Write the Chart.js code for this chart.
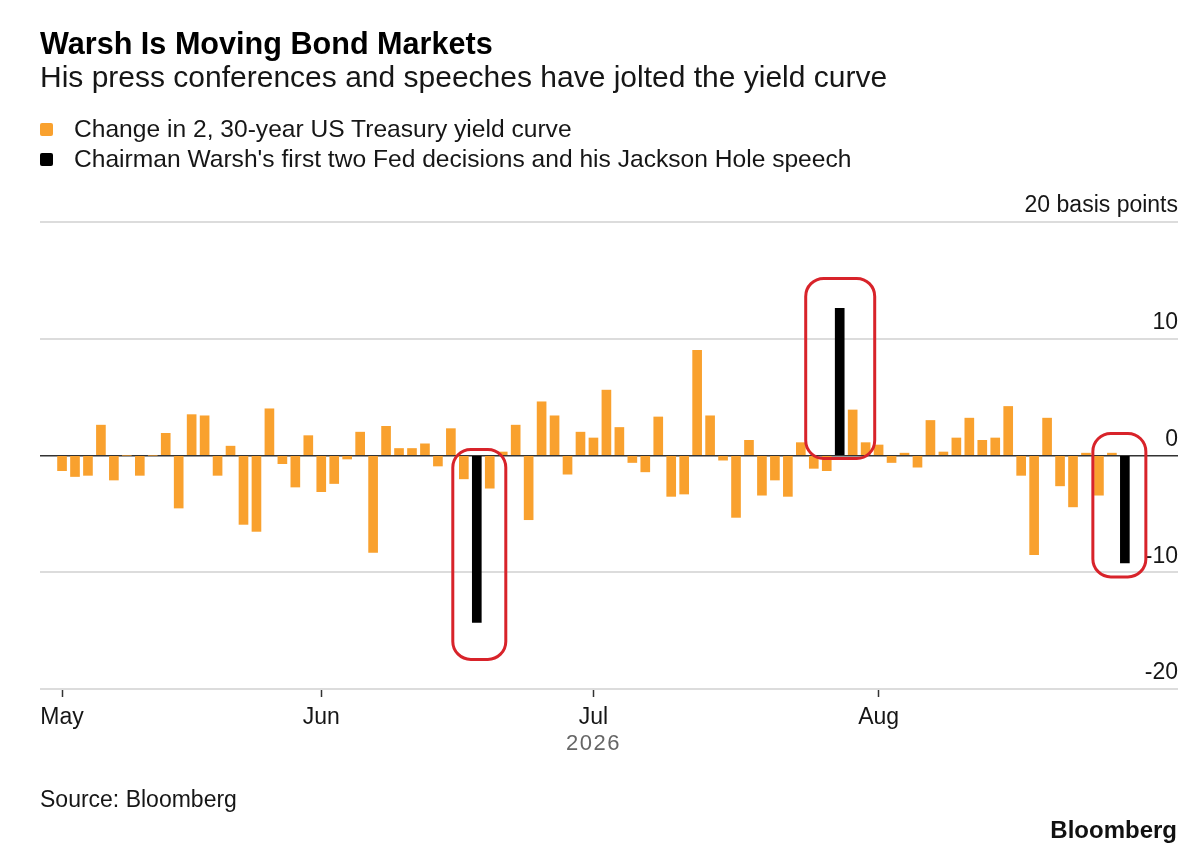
<!DOCTYPE html>
<html>
<head>
<meta charset="utf-8">
<title>Warsh Is Moving Bond Markets</title>
<script src="https://cdn.jsdelivr.net/npm/chart.js@4.4.1/dist/chart.umd.min.js"></script>
<style>
  html, body { margin: 0; padding: 0; background: #ffffff; }
  body { width: 1200px; height: 860px; position: relative; overflow: hidden;
         font-family: "Liberation Sans", Arial, Helvetica, sans-serif; color: #111; }
  .t { position: absolute; white-space: nowrap; }
  #title { left: 40px; top: 28px; font-size: 30.6px; line-height: 30px; font-weight: bold; color: #000; }
  #subtitle { left: 40px; top: 62px; font-size: 30px; line-height: 30px; color: #161616; }
  .legtxt { left: 74px; font-size: 24.6px; line-height: 24px; color: #161616; }
  .sw { position: absolute; left: 40px; width: 13px; height: 13px; border-radius: 2px; }
  #year { left: 566px; top: 732px; font-size: 22px; line-height: 22px; color: #666; letter-spacing: 1.5px; }
  #source { left: 40px; top: 788px; font-size: 23px; line-height: 23px; color: #161616; }
  #logo { right: 23px; top: 818px; font-size: 24px; line-height: 24px; font-weight: bold; color: #111; }
  #wrap { position: absolute; left: 0; top: 0; width: 1200px; height: 860px; }
</style>
</head>
<body>
<div id="wrap"><canvas id="chart" width="1200" height="860"></canvas></div>
<div class="t" id="title">Warsh Is Moving Bond Markets</div>
<div class="t" id="subtitle">His press conferences and speeches have jolted the yield curve</div>
<div class="sw" style="top:123px;background:#f9a12e;"></div>
<div class="t legtxt" style="top:117px;">Change in 2, 30-year US Treasury yield curve</div>
<div class="sw" style="top:153px;background:#000;"></div>
<div class="t legtxt" style="top:147px;">Chairman Warsh's first two Fed decisions and his Jackson Hole speech</div>
<div class="t" id="year">2026</div>
<div class="t" id="source">Source: Bloomberg</div>
<div class="t" id="logo">Bloomberg</div>

<script>
// ---- Data ----
const tradingDays = [
  '05-01','05-04','05-05','05-06','05-07','05-08','05-11','05-12','05-13','05-14',
  '05-15','05-18','05-19','05-20','05-21','05-22','05-26','05-27','05-28','05-29',
  '06-01','06-02','06-03','06-04','06-05','06-08','06-09','06-10','06-11','06-12',
  '06-15','06-16','06-17','06-18','06-22','06-23','06-24','06-25','06-26','06-29','06-30',
  '07-01','07-02','07-06','07-07','07-08','07-09','07-10','07-13','07-14','07-15',
  '07-16','07-17','07-20','07-21','07-22','07-23','07-24','07-27','07-28','07-29','07-30','07-31',
  '08-03','08-04','08-05','08-06','08-07','08-10','08-11','08-12','08-13','08-14',
  '08-17','08-18','08-19','08-20','08-21','08-24','08-25','08-26','08-27','08-28'
];
const curveChange = [
  -1.3, -1.8, -1.7, 2.6, -2.1, 0, -1.7, 0, 1.9, -4.5,
  3.5, 3.4, -1.7, 0.8, -5.9, -6.5, 4.0, -0.7, -2.7, 1.7,
  -3.1, -2.4, -0.3, 2.0, -8.3, 2.5, 0.6, 0.6, 1.0, -0.9,
  2.3, -2.0, -14.3, -2.8, 0.3, 2.6, -5.5, 4.6, 3.4, -1.6, 2.0,
  1.5, 5.6, 2.4, -0.6, -1.4, 3.3, -3.5, -3.3, 9.0, 3.4,
  -0.4, -5.3, 1.3, -3.4, -2.1, -3.5, 1.1, -1.1, -1.3, 12.6, 3.9, 1.1,
  0.9, -0.6, 0.2, -1.0, 3.0, 0.3, 1.5, 3.2, 1.3, 1.5,
  4.2, -1.7, -8.5, 3.2, -2.6, -4.4, 0.2, -3.4, 0.2, -9.2
];
const fedEvents = ['06-17', '07-29', '08-28'];
const monthKeys = ['05', '06', '07', '08'];
const monthLabels = ['May', 'Jun', 'Jul', 'Aug'];
const yTickValues = [-20, -10, 0, 10, 20];
const yTickLabels = ['-20', '-10', '0', '10', '20 basis points'];

// ---- Derived structures ----
const isEvent = tradingDays.map(d => fedEvents.includes(d));
const points = curveChange.map((v, i) => ({ x: i, y: v }));
const orangePts = points.filter((p, i) => !isEvent[i]);
const blackPts = points.filter((p, i) => isEvent[i]);
const monthStartIdx = monthKeys.map(m => tradingDays.findIndex(d => d.startsWith(m + '-')));

const FONT = '"Liberation Sans", Arial, Helvetica, sans-serif';

// style of the red hand-drawn highlight boxes (pixels)
const highlightStyle = [
  { l: 24, r: 29, zeroPad: 6, endPad: 37 },
  { l: 34, r: 35, zeroPad: 3, endPad: 30 },
  { l: 32, r: 21, zeroPad: 22, endPad: 14 }
];

function roundRectPath(ctx, x, y, w, h, r) {
  ctx.beginPath();
  ctx.moveTo(x + r, y);
  ctx.lineTo(x + w - r, y);
  ctx.arcTo(x + w, y, x + w, y + r, r);
  ctx.lineTo(x + w, y + h - r);
  ctx.arcTo(x + w, y + h, x + w - r, y + h, r);
  ctx.lineTo(x + r, y + h);
  ctx.arcTo(x, y + h, x, y + h - r, r);
  ctx.lineTo(x, y + r);
  ctx.arcTo(x, y, x + r, y, r);
  ctx.closePath();
}

const highlightPlugin = {
  id: 'highlights',
  afterDatasetsDraw(chart) {
    const { ctx, scales: { x, y } } = chart;
    fedEvents.forEach((d, k) => {
      const i = tradingDays.indexOf(d);
      const v = curveChange[i];
      const px = x.getPixelForValue(i);
      const y0 = y.getPixelForValue(0);
      const y1 = y.getPixelForValue(v);
      const s = highlightStyle[k];
      let top, bottom;
      if (v < 0) { top = y0 - s.zeroPad; bottom = y1 + s.endPad; }
      else { top = y1 - s.endPad; bottom = y0 + s.zeroPad; }
      ctx.save();
      ctx.strokeStyle = '#d8232a';
      ctx.lineWidth = 3;
      roundRectPath(ctx, px - s.l, top, s.l + s.r, bottom - top, 18);
      ctx.stroke();
      ctx.restore();
    });
  }
};

new Chart(document.getElementById('chart'), {
  type: 'bar',
  data: {
    datasets: [
      { label: 'Change in 2, 30-year US Treasury yield curve', data: orangePts,
        backgroundColor: '#f9a12e', barThickness: 9, grouped: false },
      { label: "Chairman Warsh's first two Fed decisions and his Jackson Hole speech", data: blackPts,
        backgroundColor: '#000000', barThickness: 9, grouped: false }
    ]
  },
  options: {
    responsive: false,
    animation: false,
    devicePixelRatio: 1,
    layout: { padding: { left: 40, right: 22, top: 222, bottom: 128 } },
    plugins: { legend: { display: false }, tooltip: { enabled: false } },
    scales: {
      x: {
        type: 'linear',
        offset: false,
        min: -1.7,
        max: 86.1,
        afterBuildTicks: s => { s.ticks = monthStartIdx.map(v => ({ value: v })); },
        afterFit: s => { s.height = 43; },
        ticks: {
          autoSkip: false, maxRotation: 0, padding: 7, color: '#161616',
          font: { size: 23, family: FONT },
          callback: v => monthLabels[monthStartIdx.indexOf(v)]
        },
        grid: { offset: false, drawOnChartArea: false, drawTicks: true, tickLength: 8, tickColor: '#333', tickWidth: 1.5 },
        border: { display: false }
      },
      y: {
        position: 'right',
        min: -20,
        max: 20,
        afterBuildTicks: s => { s.ticks = yTickValues.map(v => ({ value: v })); },
        ticks: {
          mirror: true, padding: 0, labelOffset: -16, color: '#161616',
          font: { size: 23, family: FONT },
          callback: v => yTickLabels[yTickValues.indexOf(v)]
        },
        grid: {
          drawTicks: false,
          color: c => (c.tick && c.tick.value === 0) ? '#333333' : '#dcdcdc',
          lineWidth: c => (c.tick && c.tick.value === 0) ? 1.6 : 2
        },
        border: { display: false }
      }
    }
  },
  plugins: [highlightPlugin]
});
</script>
</body>
</html>
